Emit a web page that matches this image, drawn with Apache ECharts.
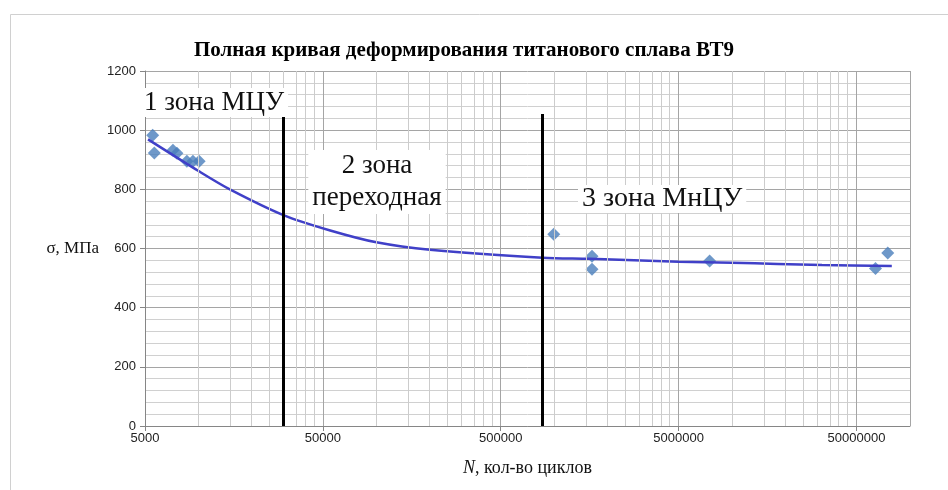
<!DOCTYPE html>
<html>

<head>
    <meta charset="UTF-8">
    <title></title>
    <style>
        html, body { margin: 0; padding: 0; background: #fff; }
        #container { width: 948px; height: 490px; }
    </style>
</head>

<body>
    <div id="container"></div>
    <script src="https://cdn.jsdelivr.net/npm/echarts@6/dist/echarts.min.js"></script>
    <script>
        // опорное значение логарифмической оси (левый край)
        var N0 = 5000;
        var NMAX = 100000000;

        // экспериментальные точки
        var pointsN = [5525, 5640, 7180, 7560, 8600, 9300, 10080, 993000, 1630000, 1630000, 7470000, 64000000, 75000000];
        var pointsS = [983, 923, 932, 922, 895, 895, 895, 648, 574, 530, 558, 532, 585];

        // линия тренда
        var trendN = [5200, 10000, 15000, 30000, 55000, 100000, 200000, 860000, 1580000, 5000000, 10000000, 18000000, 32000000, 79000000];
        var trendS = [969, 862, 800, 713, 661, 621, 596, 569, 565, 555, 552, 548, 544, 541];

        // границы зон
        var zoneN = [30000, 860000];
        var zoneTop = [1045, 1055];

        // промежуточные деления лог. шкалы: k * 5000 * 10^d
        var minorK = [2, 3, 4, 5, 6, 7, 8, 9];
        var decades = [0, 1, 2, 3, 4];

        function lx(n) { return Math.log10(n / N0); }

        var scatterData = pointsN.map(function (n, i) { return [lx(n), pointsS[i]]; });
        var trendData = trendN.map(function (n, i) { return [lx(n), trendS[i]]; });

        var minorLines = [];
        decades.forEach(function (d) {
            minorK.forEach(function (k) {
                var n = k * N0 * Math.pow(10, d);
                if (n < NMAX) minorLines.push({ xAxis: lx(n) });
            });
        });

        var zoneLines = zoneN.map(function (n, i) {
            return [{ coord: [lx(n), 0] }, { coord: [lx(n), zoneTop[i]] }];
        });

        var serif = '"Liberation Serif", "Times New Roman", serif';

        var myChart = echarts.init(document.getElementById('container'));
        myChart.setOption({
            backgroundColor: '#fff',
            animation: false,
            title: {
                text: 'Полная кривая деформирования титанового сплава ВТ9',
                left: 459,
                top: 35,
                textAlign: 'center',
                textStyle: { fontFamily: serif, fontWeight: 'bold', fontSize: 21, color: '#000' }
            },
            grid: { left: 145, top: 71, width: 765, height: 355 },
            xAxis: {
                type: 'value',
                min: 0,
                max: lx(NMAX),
                interval: 1,
                name: '{i|N}, кол-во циклов',
                nameLocation: 'middle',
                nameGap: 33,
                nameTextStyle: {
                    fontFamily: serif, fontSize: 18, color: '#111',
                    rich: { i: { fontFamily: serif, fontSize: 18, fontStyle: 'italic', color: '#111' } }
                },
                axisLine: { lineStyle: { color: '#868686' } },
                axisTick: { show: true, length: 5, lineStyle: { color: '#868686' } },
                axisLabel: {
                    showMaxLabel: false,
                    margin: 6,
                    fontFamily: '"Liberation Sans", Arial, sans-serif',
                    fontSize: 13,
                    color: '#222',
                    formatter: function (v) { return String(Math.round(N0 * Math.pow(10, v))); }
                },
                splitLine: { show: true, lineStyle: { color: '#a5a5a5' } }
            },
            yAxis: {
                type: 'value',
                min: 0,
                max: 1200,
                interval: 200,
                name: 'σ, МПа',
                nameLocation: 'middle',
                nameRotate: 0,
                nameGap: 46,
                nameTextStyle: { fontFamily: serif, fontSize: 17, color: '#111' },
                axisLine: { show: true, lineStyle: { color: '#868686' } },
                axisTick: { show: true, length: 5, lineStyle: { color: '#868686' } },
                axisLabel: {
                    margin: 9,
                    fontFamily: '"Liberation Sans", Arial, sans-serif',
                    fontSize: 13,
                    color: '#222',
                    formatter: function (v) { return String(v); }
                },
                splitLine: { show: true, lineStyle: { color: '#a5a5a5' } },
                minorTick: { show: false, splitNumber: 5 },
                minorSplitLine: { show: true, lineStyle: { color: '#d0d0d0' } }
            },
            graphic: [
                {
                    type: 'text', left: 140, top: 88, z: 10,
                    style: {
                        text: '1 зона МЦУ', font: '27px ' + serif, fill: '#111',
                        backgroundColor: '#fff', padding: [1, 4, 1, 4], lineHeight: 27
                    }
                },
                {
                    type: 'text', x: 377, y: 150, z: 10,
                    style: {
                        text: '2 зона\nпереходная', font: '27px ' + serif, fill: '#111',
                        align: 'center', backgroundColor: '#fff', padding: [0, 4, 0, 4], lineHeight: 32
                    }
                },
                {
                    type: 'text', left: 578, top: 185, z: 10,
                    style: {
                        text: '3 зона МнЦУ', font: '28px ' + serif, fill: '#111',
                        backgroundColor: '#fff', padding: [0, 4, 0, 4], lineHeight: 28
                    }
                },
                {
                    type: 'rect', z: -1, silent: true,
                    shape: { x: 10.5, y: 14.5, width: 960, height: 500 },
                    style: { fill: 'none', stroke: '#d0d0d0', lineWidth: 1 }
                }
            ],
            series: [
                {
                    // промежуточная сетка по оси N
                    type: 'line',
                    data: [],
                    z: 1,
                    silent: true,
                    markLine: {
                        silent: true,
                        symbol: 'none',
                        label: { show: false },
                        lineStyle: { color: '#cccccc', width: 1, type: 'solid' },
                        data: minorLines
                    }
                },
                {
                    type: 'scatter',
                    symbol: 'diamond',
                    symbolSize: 13,
                    itemStyle: { color: '#4a7ebb' },
                    data: scatterData,
                    z: 3
                },
                {
                    type: 'line',
                    data: trendData,
                    smooth: 0.3,
                    showSymbol: false,
                    lineStyle: { color: '#4040c8', width: 2.5 },
                    z: 4
                },
                {
                    // границы зон
                    type: 'line',
                    data: [],
                    z: 5,
                    silent: true,
                    markLine: {
                        silent: true,
                        symbol: 'none',
                        label: { show: false },
                        lineStyle: { color: '#000', width: 3, type: 'solid' },
                        data: zoneLines
                    }
                }
            ]
        });
    </script>
</body>

</html>
